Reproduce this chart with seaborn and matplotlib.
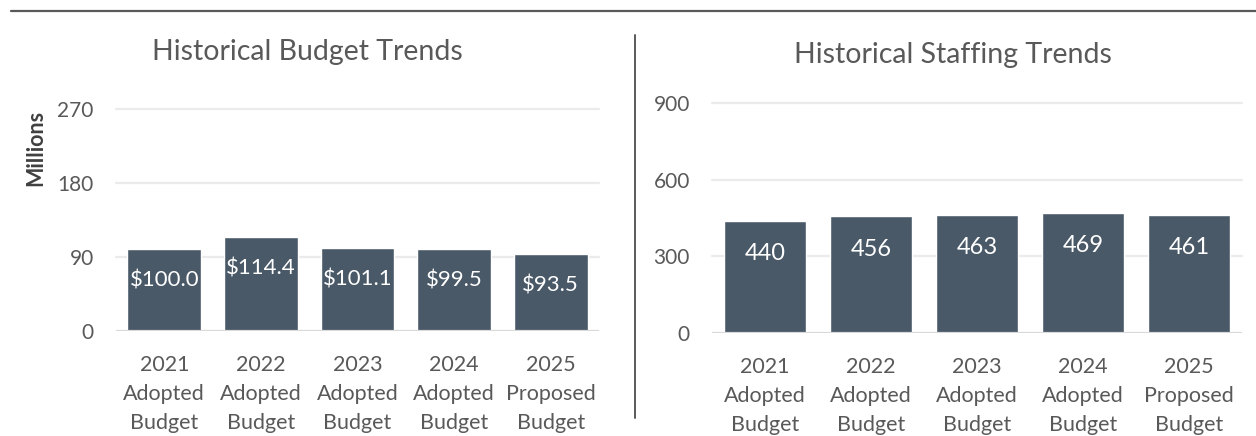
import pandas as pd
import seaborn as sns
import matplotlib.pyplot as plt
from matplotlib.lines import Line2D

# chart values
years = ["2021\nAdopted\nBudget", "2022\nAdopted\nBudget", "2023\nAdopted\nBudget",
         "2024\nAdopted\nBudget", "2025\nProposed\nBudget"]
budget = [100.0, 114.4, 101.1, 99.5, 93.5]
staffing = [440, 456, 463, 469, 461]
budget_ticks = [0, 90, 180, 270]
staff_ticks = [0, 300, 600, 900]

sns.set_theme(style="white")
plt.rcParams["font.family"] = ["Lato", "DejaVu Sans"]

bar_color = "#4a5968"
text_gray = "#595959"
grid_gray = "#ebebeb"

budget_df = pd.DataFrame({"year": years, "value": budget})
staff_df = pd.DataFrame({"year": years, "value": staffing})

W, H = 1256, 436
fig = plt.figure(figsize=(W / 100, H / 100), dpi=100)
ax1 = fig.add_axes([116 / W, 1 - 331 / H, 483 / W, 222 / H])
ax2 = fig.add_axes([712 / W, 1 - 333 / H, 530 / W, 230 / H])


def draw(ax, df, ticks, fmt, label_size, label_off):
    sns.barplot(data=df, x="year", y="value", color=bar_color, width=0.766,
                saturation=1, ax=ax, zorder=3)
    ax.set_ylim(ticks[0], ticks[-1])
    ax.set_xlim(-0.5, len(df) - 0.5)
    ax.set_yticks(ticks)
    for t in ticks[1:]:
        ax.axhline(t, color=grid_gray, lw=1.6, zorder=0, clip_on=False)
    ax.axhline(0, color="#d9d9d9", lw=1.6, zorder=4)
    for s in ax.spines.values():
        s.set_visible(False)
    ax.set_xlabel("")
    ax.set_ylabel("")
    ax.tick_params(axis="both", length=0, labelcolor=text_gray)
    ax.tick_params(axis="y", labelsize=15, pad=16)
    ax.tick_params(axis="x", labelsize=15.5, pad=17)
    for lbl in ax.get_xticklabels():
        lbl.set_linespacing(1.56)
    for i, v in enumerate(df["value"]):
        ax.annotate(fmt(v), xy=(i, v), xytext=(0, label_off), textcoords="offset points",
                    ha="center", va="center", color="white", fontsize=label_size,
                    zorder=5)


draw(ax1, budget_df, budget_ticks, lambda v: f"${v:.1f}", 16, -22.5)
draw(ax2, staff_df, staff_ticks, lambda v: f"{v:.0f}", 17, -23.5)

ax1.set_ylabel("Millions", fontsize=15.5, fontweight="bold", color="#404040")
ax1.yaxis.set_label_coords(-0.145, 0.826)

fig.text(307 / W, 1 - 60 / H, "Historical Budget Trends", ha="center", va="baseline",
         fontsize=20.5, color=text_gray)
fig.text(953 / W, 1 - 63 / H, "Historical Staffing Trends", ha="center", va="baseline",
         fontsize=20.5, color=text_gray)

# frame lines
fig.add_artist(Line2D([11 / W, 1], [1 - 11 / H, 1 - 11 / H], color="#595959", lw=1.6))
fig.add_artist(Line2D([635 / W, 635 / W], [1 - 35 / H, 1 - 418 / H],
                      color="#595959", lw=1.4))

plt.savefig("out.png", dpi=100)
